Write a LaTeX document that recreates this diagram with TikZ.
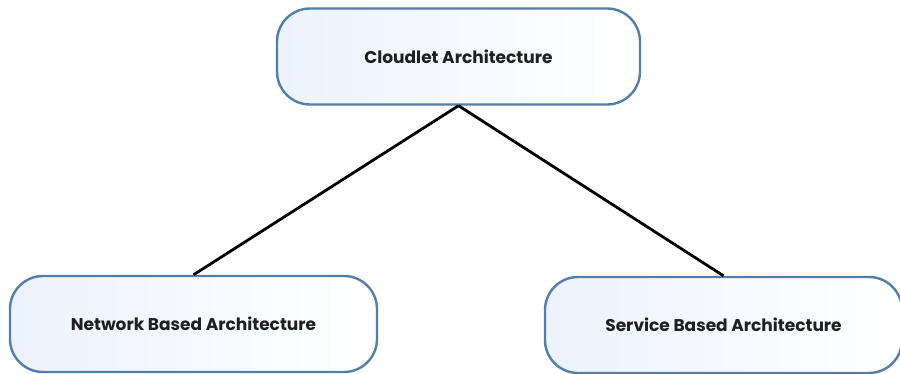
\documentclass[tikz,border=0pt]{standalone}
\usepackage{fontspec}
\setmainfont{Poppins}

\definecolor{boxline}{RGB}{84,125,170}
\definecolor{boxfill}{RGB}{236,243,252}

\tikzset{
    archbox/.style={draw=boxline, line width=2.4pt, rounded corners=33pt,
        left color=boxfill, right color=white, minimum height=96pt,
        font=\fontsize{17}{20}\selectfont\bfseries, text=black!88},
    link/.style={line width=2.8pt, black}
}

\begin{document}
\begin{tikzpicture}[x=1pt, y=1pt]

    \useasboundingbox (0,0) rectangle (900,373);

    \node[archbox, minimum width=363pt] (Cloud) at (458.5,316.5) {Cloudlet Architecture};
    \node[archbox, minimum width=367pt] (Net) at (193.5,49) {Network Based Architecture};
    \node[archbox, minimum width=357pt] (Serv) at (723.5,48) {Service Based Architecture};

    \draw[link] (Cloud.south) -- (Net.north);
    \draw[link] (Cloud.south) -- (Serv.north);

\end{tikzpicture}
\end{document}
